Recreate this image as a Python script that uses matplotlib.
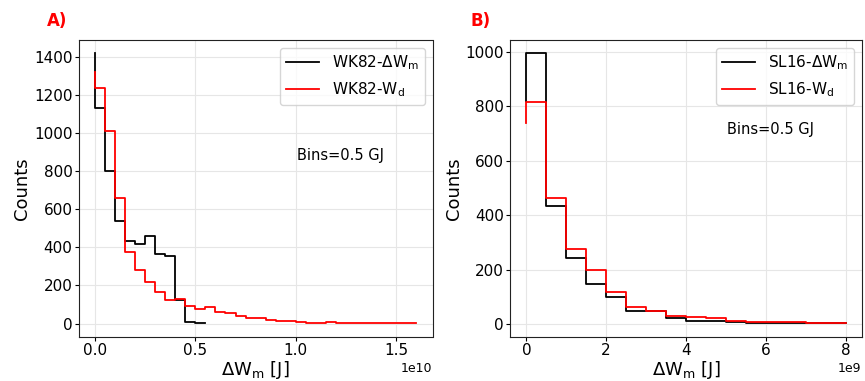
import numpy as np
import matplotlib
matplotlib.use("Agg")
import matplotlib.pyplot as plt

# bin edges (J), 0.5 GJ bins
edges_wk82_dw = np.arange(0, 5.5e9 + 1, 5e8)
edges_wk82_wd = np.arange(0, 16.0e9 + 1, 5e8)
edges_sl16 = np.arange(0, 8.0e9 + 1, 5e8)

# counts (first value is the starting point at x=0, then one per bin)
wk82_dw = [1418, 1133, 802, 540, 435, 420, 461, 367, 355, 124, 10, 2]
wk82_wd = [1321, 1238, 1012, 661, 378, 282, 217, 166, 123, 131, 93, 77, 89,
           58, 54, 37, 28, 27, 18, 13, 13, 7, 4, 4, 7, 4, 2, 2, 2, 1, 2, 1, 1]
sl16_dw = [820, 995, 432, 244, 148, 99, 48, 48, 21, 10, 9, 8, 2, 2, 3, 3, 3]
sl16_wd = [740, 818, 463, 275, 198, 118, 61, 47, 30, 25, 20, 12, 7, 7, 5, 3, 3]

plt.rcParams["font.family"] = "DejaVu Sans"

fig = plt.figure(figsize=(8.65, 3.81), dpi=100)
ax1 = fig.add_axes([0.091, 0.116, 0.409, 0.779])
ax2 = fig.add_axes([0.590, 0.116, 0.406, 0.779])

panels = [
    (ax1, edges_wk82_dw, wk82_dw, edges_wk82_wd, wk82_wd, "WK82", (0.617, 0.612)),
    (ax2, edges_sl16, sl16_dw, edges_sl16, sl16_wd, "SL16", (0.616, 0.70)),
]

for ax, e1, y1, e2, y2, name, txt in panels:
    ax.step(e1, y1, where="pre", color="black", lw=1.3,
            label=name + r"-$\Delta$W$_\mathregular{m}$")
    ax.step(e2, y2, where="pre", color="red", lw=1.3,
            label=name + r"-W$_\mathregular{d}$")
    ax.grid(True, color="#e6e6e6", lw=0.8)
    ax.set_axisbelow(True)
    ax.set_xlabel(r"$\Delta$W$_\mathregular{m}$ [J]", fontsize=13, labelpad=1)
    ax.set_ylabel("Counts", fontsize=13, labelpad=2)
    ax.tick_params(labelsize=11, length=3, pad=1.5)
    ax.xaxis.get_offset_text().set_fontsize(9)
    ax.legend(loc="upper right", fontsize=11, handlelength=2.2)
    ax.text(txt[0], txt[1], "Bins=0.5 GJ", transform=ax.transAxes,
            fontsize=10.5, va="center")
    for s in ax.spines.values():
        s.set_color("#222222")

ax1.set_yticks([0, 200, 400, 600, 800, 1000, 1200, 1400])
ax2.set_yticks([0, 200, 400, 600, 800, 1000])

fig.text(0.066, 0.945, "A)", color="red", fontsize=12, fontweight="bold",
         ha="center", va="center")
fig.text(0.555, 0.945, "B)", color="red", fontsize=12, fontweight="bold",
         ha="center", va="center")

fig.savefig("out.png", dpi=100)
